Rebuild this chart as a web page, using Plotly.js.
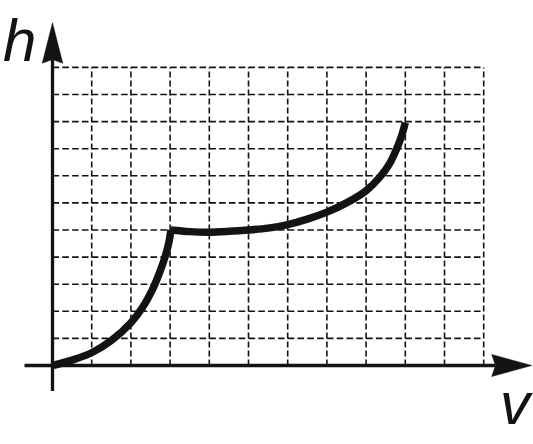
<!DOCTYPE html>
<html>
<head>
<meta charset="utf-8">
<script src="https://cdn.plot.ly/plotly-3.0.1.min.js"></script>
<style>html,body{margin:0;padding:0;background:#fff;}#chart{width:533px;height:444px;}</style>
</head>
<body>
<div id="chart"></div>
<script>
// Data (grid units)
const riseV = [0, 0.5, 1, 1.5, 2, 2.3, 2.55, 2.75, 2.88, 2.97, 3.02];
const riseH = [0, 0.2, 0.47, 0.92, 1.58, 2.15, 2.8, 3.5, 4.05, 4.55, 5];
const plateauV = [3.02, 3.5, 4, 4.5, 5, 5.5, 6, 6.5, 7, 7.5, 8, 8.35, 8.6, 8.78, 8.9, 9];
const plateauH = [5, 4.94, 4.92, 4.95, 5.0, 5.07, 5.2, 5.4, 5.66, 6.0, 6.45, 6.95, 7.45, 8.0, 8.45, 8.96];
const gridTicks = [1, 2, 3, 4, 5, 6, 7, 8, 9, 10, 11];
const xLabel = 'v';
const yLabel = 'h';

// Geometry (pixels)
const W = 533, H = 444;
const originPx = {x: 52.5, y: 365.5};
const unitPx = {x: 39.2, y: 27.1};
const xr = [-originPx.x / unitPx.x, (W - originPx.x) / unitPx.x];
const yr = [-(H - originPx.y) / unitPx.y, originPx.y / unitPx.y];
const px2x = p => (p - originPx.x) / unitPx.x;
const px2y = p => (originPx.y - p) / unitPx.y;

const ink = '#131313';
const gridMax = gridTicks[gridTicks.length - 1];
const shapes = [];
gridTicks.forEach(t => {
  shapes.push({type: 'line', xref: 'x', yref: 'y', x0: t, x1: t, y0: 0, y1: gridMax,
    line: {color: ink, width: 1.6, dash: '6px,3px'}, layer: 'below'});
  shapes.push({type: 'line', xref: 'x', yref: 'y', x0: 0, x1: gridMax, y0: t, y1: t,
    line: {color: ink, width: 1.6, dash: '6.6px,3.2px'}, layer: 'below'});
});
// axes
const xTip = px2x(531.7), xBase = px2x(491.7), xNotch = px2x(495.5), xHalf = 11 / unitPx.y;
const yTip = px2y(22.7), yBase = px2y(63.3), yNotch = px2y(59.5), yHalf = 10.3 / unitPx.x;
shapes.push({type: 'line', xref: 'x', yref: 'y', x0: px2x(24.5), x1: xNotch, y0: 0, y1: 0,
  line: {color: ink, width: 3.3}});
shapes.push({type: 'line', xref: 'x', yref: 'y', x0: 0, x1: 0, y0: px2y(391), y1: yNotch,
  line: {color: ink, width: 3.3}});
shapes.push({type: 'path', xref: 'x', yref: 'y',
  path: `M${xBase},${-xHalf} L${xTip},0 L${xBase},${xHalf} L${xNotch},0 Z`,
  fillcolor: ink, line: {color: ink, width: 0.5}});
shapes.push({type: 'path', xref: 'x', yref: 'y',
  path: `M${-yHalf},${yBase} L0,${yTip} L${yHalf},${yBase} L0,${yNotch} Z`,
  fillcolor: ink, line: {color: ink, width: 0.5}});

const traces = [
  {type: 'scatter', x: riseV, y: riseH, mode: 'lines',
   line: {color: ink, width: 7.5, shape: 'spline', smoothing: 1}, hoverinfo: 'skip'},
  {type: 'scatter', x: plateauV, y: plateauH, mode: 'lines',
   line: {color: ink, width: 7.5, shape: 'spline', smoothing: 1}, hoverinfo: 'skip'}
];

const layout = {
  width: W, height: H,
  margin: {l: 0, r: 0, t: 0, b: 0},
  paper_bgcolor: '#fff', plot_bgcolor: '#fff',
  showlegend: false,
  xaxis: {range: xr, visible: false, fixedrange: true},
  yaxis: {range: yr, visible: false, fixedrange: true},
  shapes: shapes,
  annotations: [
    {text: '<i>' + yLabel + '</i>', xref: 'paper', yref: 'paper', x: 2 / W, y: 1 - 6 / H,
     xanchor: 'left', yanchor: 'top', showarrow: false, borderpad: 0,
     font: {family: 'Liberation Sans, Arial, sans-serif', size: 60, color: ink}},
    {text: '<i>' + xLabel + '</i>', xref: 'paper', yref: 'paper', x: 499 / W, y: 1 - 369 / H,
     xanchor: 'left', yanchor: 'top', showarrow: false, borderpad: 0,
     font: {family: 'Liberation Sans, Arial, sans-serif', size: 60, color: ink}}
  ]
};

Plotly.newPlot('chart', traces, layout, {staticPlot: true, displayModeBar: false});
</script>
</body>
</html>
